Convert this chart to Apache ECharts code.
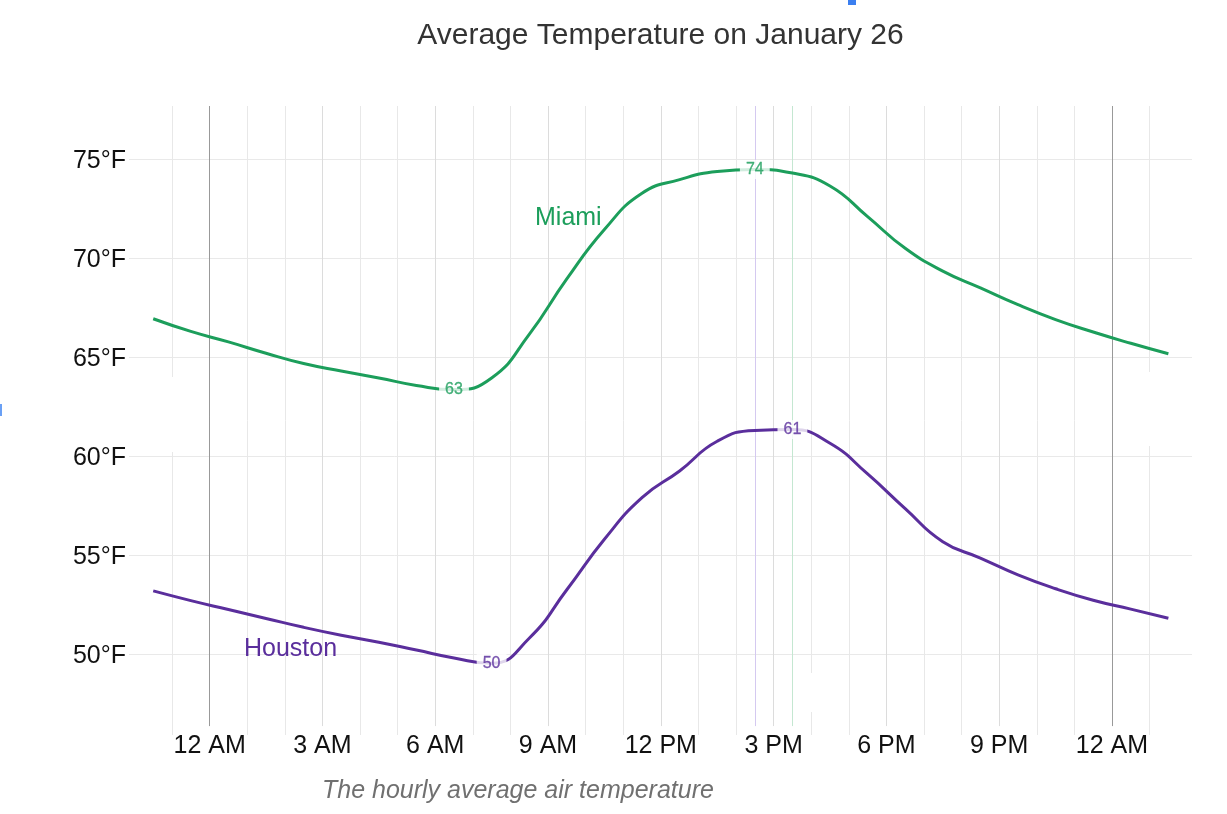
<!DOCTYPE html>
<html>
<head>
<meta charset="utf-8">
<script src="https://cdn.jsdelivr.net/npm/echarts@6/dist/echarts.min.js"></script>
<style>
html,body{margin:0;padding:0;background:#fff;}
#c{width:1227px;height:814px;}
</style>
</head>
<body>
<div id="c"></div>
<script>
// ---- data ----
const hours = [-1.5,-0.5,0.5,1.5,2.5,3.5,4.5,5.5,6.5,7.5,8.5,9.5,10.5,11.5,12.5,13.5,14.5,15.5,16.5,17.5,18.5,19.5,20.5,21.5,22.5,23.5,24.5,25.5];
const miami = [66.94,66.3,65.77,65.2,64.68,64.3,63.95,63.57,63.36,63.95,66.15,68.95,71.45,73.28,73.97,74.38,74.48,74.3,73.65,72.1,70.5,69.35,68.5,67.65,66.9,66.27,65.7,65.17];
const houston = [53.19,52.7,52.25,51.8,51.35,50.95,50.6,50.2,49.8,49.53,50.8,53.25,55.8,57.9,59.25,60.75,61.3,61.34,60.65,59.1,57.35,55.68,54.85,54.0,53.3,52.72,52.27,51.81];
const seriesNames = ['Miami','Houston'];
const xTickHours = [0,3,6,9,12,15,18,21,24];
const xTickLabels = ['12 AM','3 AM','6 AM','9 AM','12 PM','3 PM','6 PM','9 PM','12 AM'];
const gridHours = [-1,0,1,2,3,4,5,6,7,8,9,10,11,12,13,14,15,16,17,18,19,20,21,22,23,24,25];
const midnightHours = [0,24];
const yTickValues = [50,55,60,65,70,75];
const yTickLabels = ['50°F','55°F','60°F','65°F','70°F','75°F'];
const titleText = 'Average Temperature on January 26';
const captionText = 'The hourly average air temperature';

// ---- styling / layout ----
const GREEN = '#1c9e5b';
const PURPLE = '#5a2e9c';
const FONT = '"Liberation Sans", Arial, Helvetica, sans-serif';
const X_MIN = -2.144, X_MAX = 26.128;
const Y_MIN = 45.91, Y_MAX = 77.69;
const Y_LABELED_LOW = 46.36;

const chart = echarts.init(document.getElementById('c'), null, {renderer:'canvas'});

function argIdx(arr, fn){ let b=0; for(let i=1;i<arr.length;i++){ if(fn(arr[i],arr[b])) b=i; } return b; }
const miMin = argIdx(miami,(a,b)=>a<b), miMax = argIdx(miami,(a,b)=>a>b);
const hoMin = argIdx(houston,(a,b)=>a<b), hoMax = argIdx(houston,(a,b)=>a>b);

// vertical hour gridlines (labeled ones carry the x tick labels)
const vLines = gridHours.map(h => {
  const midnight = midnightHours.includes(h);
  const li = xTickHours.indexOf(h);
  const labeled = li >= 0;
  const low = labeled ? Y_LABELED_LOW : Y_MIN;
  const from = {coord:[h, low], lineStyle:{color: midnight ? '#999999' : (labeled ? '#dcdcdc' : '#e8e8e8'), width:1, type:'solid'}};
  if (labeled) {
    from.label = {show:true, position:'start', formatter: xTickLabels[li], color:'#111', fontSize:25, fontFamily:FONT, distance:8};
  }
  return [from, {coord:[h, Y_MAX]}];
});
// horizontal gridlines w/ y labels
const hLines = yTickValues.map((v,i) => ({
  yAxis: v,
  lineStyle:{color:'#e9e9e9', width:1, type:'solid'},
  label:{show:true, position:'start', formatter: yTickLabels[i], color:'#111', fontSize:25, fontFamily:FONT, distance:3, offset:[0,2]}
}));

const markerSeries = (h, color) => ({
  type:'line', data:[], silent:true, z:0,
  markLine:{silent:true, z:0, symbol:['none','none'], animation:false, label:{show:false},
    lineStyle:{color: color, width:1, type:'solid', opacity:1},
    data:[[{coord:[h, Y_LABELED_LOW]},{coord:[h, Y_MAX]}]]}
});

const gapLabel = (color) => ({
  show:true, position:'inside', color: color, fontSize:16, fontFamily:FONT,
  textBorderWidth:0.3, textBorderColor:color,
  backgroundColor:'#fff', padding:[2,6,1,6],
  formatter: p => String(Math.round(p.value[1]))
});

const option = {
  animation:false,
  backgroundColor:'#fff',
  grid:{left:129, right:35, top:106, bottom:79, containLabel:false},
  xAxis:{type:'value', min:X_MIN, max:X_MAX, show:true,
    axisLine:{show:false}, axisTick:{show:false}, axisLabel:{show:false}, splitLine:{show:false}},
  yAxis:{type:'value', min:Y_MIN, max:Y_MAX, show:true,
    axisLine:{show:false}, axisTick:{show:false}, axisLabel:{show:false}, splitLine:{show:false}},
  series:[
    {type:'line', name:'grid', data:[], silent:true, z:0,
     markLine:{silent:true, z:0, symbol:['none','none'], animation:false,
       label:{show:false}, data: hLines.concat(vLines)}},
    markerSeries(hours[miMax], '#d4c9f0'),
    markerSeries(hours[hoMax], '#c4e7d1'),
    {type:'line', name:seriesNames[0], data: hours.map((h,i)=>[h, miami[i]]), smooth:true,
     showSymbol:false, symbol:'none', lineStyle:{color:GREEN, width:3}, z:3},
    {type:'line', name:seriesNames[1], data: hours.map((h,i)=>[h, houston[i]]), smooth:true,
     showSymbol:false, symbol:'none', lineStyle:{color:PURPLE, width:3}, z:3},
    {type:'scatter', data:[[hours[miMin], miami[miMin]],[hours[miMax], miami[miMax]]], symbolSize:0,
     itemStyle:{color:GREEN}, label: gapLabel(GREEN), z:5},
    {type:'scatter', data:[[hours[hoMin], houston[hoMin]],[hours[hoMax], houston[hoMax]]], symbolSize:0,
     itemStyle:{color:PURPLE}, label: gapLabel(PURPLE), z:5}
  ],
  graphic:[
    {type:'text', x:660.5, y:36, style:{text:titleText, fill:'#333', font:'30px '+FONT, textAlign:'center', textVerticalAlign:'middle'}},
    {type:'text', x:322, y:791, style:{text:captionText, fill:'#707070', font:'italic 25px '+FONT, textAlign:'left', textVerticalAlign:'middle'}},
    {type:'text', x:535, y:218, z:10, style:{text:seriesNames[0], fill:GREEN, font:'25px '+FONT, textAlign:'left', textVerticalAlign:'middle'}},
    {type:'text', x:244, y:649, z:10, style:{text:seriesNames[1], fill:PURPLE, font:'25px '+FONT, textAlign:'left', textVerticalAlign:'middle'}},
    {type:'rect', shape:{x:131, y:377, width:72, height:75}, style:{fill:'#fff'}, z:10},
    {type:'rect', shape:{x:1118, y:372, width:72, height:74}, style:{fill:'#fff'}, z:10},
    {type:'rect', shape:{x:800, y:673, width:45, height:39}, style:{fill:'#fff'}, z:10},
    {type:'rect', shape:{x:848, y:0, width:8, height:5}, style:{fill:'#3b7ff0'}, z:10},
    {type:'rect', shape:{x:0, y:404, width:2, height:12}, style:{fill:'#6aa0f5'}, z:10}
  ]
};
chart.setOption(option);
</script>
</body>
</html>
